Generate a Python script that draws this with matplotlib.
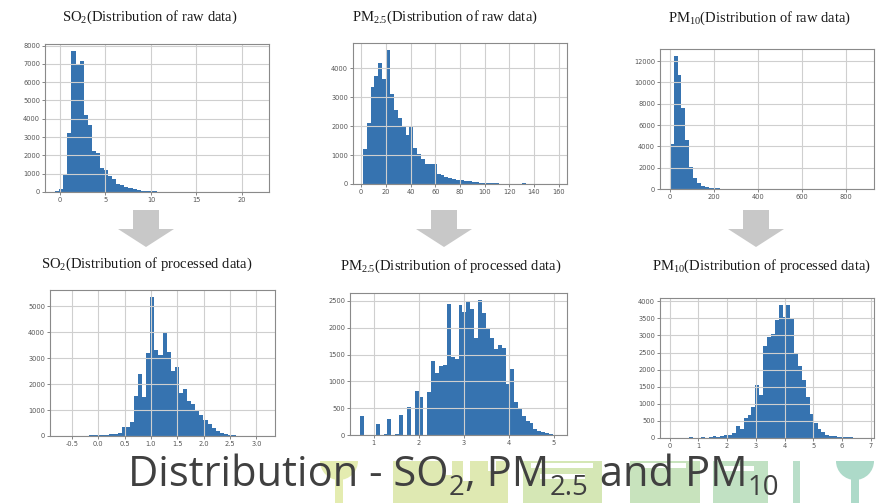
import numpy as np
import matplotlib
matplotlib.use("Agg")
import matplotlib.pyplot as plt
from matplotlib.patches import Polygon, Rectangle, Wedge

W, H = 884, 503

# ---------------- data (50 histogram bins per panel) ----------------
so2_raw_range = (-0.53, 21.85)
so2_raw_counts = [60, 150, 950, 3200, 7700, 7000, 7150, 4200, 3650, 2250,
                  2150, 1300, 1200, 850, 700, 450, 380, 300, 200, 150,
                  100, 80, 60, 45, 35, 25, 20, 15, 10, 8,
                  5, 4, 3, 2, 2, 1, 1, 1, 0, 0,
                  0, 0, 0, 0, 0, 0, 0, 0, 0, 1]
so2_raw_xticks = [0, 5, 10, 15, 20]
so2_raw_yticks = [0, 1000, 2000, 3000, 4000, 5000, 6000, 7000, 8000]

pm25_raw_range = (1.2, 158.8)
pm25_raw_counts = [1200, 2100, 3350, 3750, 4200, 3650, 4650, 3100, 2550, 2300,
                   2000, 1700, 2000, 1250, 1050, 850, 700, 700, 700, 350,
                   300, 250, 200, 180, 150, 150, 110, 100, 80, 60,
                   50, 40, 30, 25, 20, 15, 12, 10, 8, 6,
                   5, 30, 3, 2, 2, 1, 1, 1, 0, 1]
pm25_raw_xticks = [0, 20, 40, 60, 80, 100, 120, 140, 160]
pm25_raw_yticks = [0, 1000, 2000, 3000, 4000]

pm10_raw_range = (0.0, 883.0)
pm10_raw_counts = [4200, 12500, 10700, 7600, 4550, 2100, 1000, 600, 300, 200,
                   130, 100, 60, 40, 30, 20, 15, 10, 8, 5,
                   4, 3, 2, 2, 1, 1, 1, 0, 0, 0,
                   0, 0, 0, 0, 0, 0, 0, 0, 0, 0,
                   0, 0, 0, 0, 0, 0, 0, 0, 0, 1]
pm10_raw_xticks = [0, 200, 400, 600, 800]
pm10_raw_yticks = [0, 2000, 4000, 6000, 8000, 10000, 12000]

so2_proc_range = (-0.72, 3.16)
so2_proc_counts = [1, 0, 0, 0, 2, 3, 5, 20, 20, 30,
                   40, 50, 60, 80, 120, 350, 350, 550, 1550, 2400,
                   1500, 3200, 5350, 3300, 3100, 4000, 3250, 2500, 2650, 1650,
                   1800, 1350, 1250, 1000, 800, 600, 450, 300, 200, 100,
                   60, 40, 20, 10, 6, 4, 2, 1, 1, 1]
so2_proc_xticks = [-0.5, 0.0, 0.5, 1.0, 1.5, 2.0, 2.5, 3.0]
so2_proc_yticks = [0, 1000, 2000, 3000, 4000, 5000]

pm25_proc_range = (0.693, 5.07)
pm25_proc_counts = [350, 0, 0, 0, 200, 0, 10, 300, 0, 10,
                    370, 0, 530, 0, 820, 700, 0, 800, 1380, 1150,
                    1280, 1300, 2450, 1450, 1420, 2430, 2300, 2480, 2350, 1800,
                    2520, 2280, 2000, 1800, 1600, 1670, 1620, 950, 1230, 620,
                    500, 360, 260, 220, 120, 80, 50, 30, 10, 5]
pm25_proc_xticks = [1, 2, 3, 4, 5]
pm25_proc_yticks = [0, 500, 1000, 1500, 2000, 2500]

pm10_proc_range = (0.0, 6.78)
pm10_proc_counts = [0, 0, 0, 0, 0, 30, 0, 0, 20, 0,
                    40, 50, 30, 60, 80, 100, 150, 350, 250, 580,
                    680, 900, 1550, 1250, 2700, 2950, 3050, 3450, 3900, 3550,
                    3900, 3500, 2500, 2100, 1700, 1200, 700, 450, 250, 170,
                    100, 70, 50, 40, 30, 20, 15, 10, 3, 1]
pm10_proc_xticks = [0, 1, 2, 3, 4, 5, 6, 7]
pm10_proc_yticks = [0, 500, 1000, 1500, 2000, 2500, 3000, 3500, 4000]

panel_titles = [
    "SO$_{\\mathregular{2}}$(Distribution of raw data)",
    "PM$_{\\mathregular{2.5}}$(Distribution of raw data)",
    "PM$_{\\mathregular{10}}$(Distribution of raw data)",
    "SO$_{\\mathregular{2}}$(Distribution of processed data)",
    "PM$_{\\mathregular{2.5}}$(Distribution of processed data)",
    "PM$_{\\mathregular{10}}$(Distribution of processed data)",
]
# main title: (text, is_subscript)
main_title_parts = [("Distribution - SO", False), ("2", True), (", PM", False),
                    ("2.5", True), (" and PM", False), ("10", True)]

# ---------------- layout (pixels) ----------------
panel_boxes = [  # left, top, right, bottom
    (45, 44, 269, 192),
    (353, 43, 567, 184),
    (660, 49, 874, 189),
    (50, 290, 275, 436),
    (350, 293, 567, 435),
    (660, 298, 874, 438),
]
title_pos = [(150, 17), (445, 17), (760, 18), (147, 264), (451, 266), (761, 266)]
arrow_centers = [146, 444, 756]

fig = plt.figure(figsize=(W / 100, H / 100), dpi=100)

# background layer for decorations
bg = fig.add_axes([0, 0, 1, 1], zorder=-5)
bg.set_xlim(0, W)
bg.set_ylim(H, 0)
bg.axis("off")

# faint logo-like decoration behind the main title
deco = [
    (393, 461, 115, 42, "#dfe9b2"),
    (523, 461, 79, 42, "#d5e7b5"),
    (630, 461, 70, 42, "#c8e3bd"),
    (713, 461, 55, 42, "#c1e1c3"),
    (793, 461, 7, 42, "#b9dec9"),
]
for x, y, w, h, c in deco:
    bg.add_patch(Rectangle((x, y), w, h, color=c, lw=0))
# white cut-outs
for x, y, w, h in [(442, 461, 10, 14), (463, 461, 7, 20), (488, 461, 8, 10),
                   (531, 463, 62, 5), (540, 474, 45, 5), (640, 463, 46, 5),
                   (724, 466, 30, 5)]:
    bg.add_patch(Rectangle((x, y), w, h, color="white", lw=0))
for cx, col in [(339, "#e4ecb0"), (855, "#addac9")]:
    bg.add_patch(Wedge((cx, 461), 19, 0, 180, color=col, lw=0))
    bg.add_patch(Rectangle((cx - 4, 461), 8, 42, color=col, lw=0))

# grey down arrows
for cx in arrow_centers:
    pts = [(cx - 13, 210), (cx + 13, 210), (cx + 13, 229), (cx + 28, 229),
           (cx, 247), (cx - 28, 229), (cx - 13, 229)]
    bg.add_patch(Polygon(pts, closed=True, color="#c8c8c8", lw=0))

panels = [
    (so2_raw_range, so2_raw_counts, so2_raw_xticks, so2_raw_yticks),
    (pm25_raw_range, pm25_raw_counts, pm25_raw_xticks, pm25_raw_yticks),
    (pm10_raw_range, pm10_raw_counts, pm10_raw_xticks, pm10_raw_yticks),
    (so2_proc_range, so2_proc_counts, so2_proc_xticks, so2_proc_yticks),
    (pm25_proc_range, pm25_proc_counts, pm25_proc_xticks, pm25_proc_yticks),
    (pm10_proc_range, pm10_proc_counts, pm10_proc_xticks, pm10_proc_yticks),
]

bar_color = "#3673b0"
for (rng, counts, xt, yt), (l, t, r, b), title, (tx, ty) in zip(
        panels, panel_boxes, panel_titles, title_pos):
    ax = fig.add_axes([l / W, 1 - b / H, (r - l) / W, (b - t) / H])
    edges = np.linspace(rng[0], rng[1], len(counts) + 1)
    ax.bar(edges[:-1], counts, width=np.diff(edges), align="edge",
           color=bar_color, linewidth=0)
    ax.set_axisbelow("line")
    ax.grid(True, color="#cfcfcf", linewidth=0.8)
    ax.set_xticks(xt)
    ax.set_yticks(yt)
    ax.set_xticklabels([("%.1f" % v) if isinstance(v, float) else str(v) for v in xt])
    ax.tick_params(labelsize=4.8, colors="#555555", length=2, width=0.5, pad=1.5)
    for s in ax.spines.values():
        s.set_color("#8a8a8a")
        s.set_linewidth(0.8)
    fig.text(tx / W, 1 - ty / H, title, ha="center", va="center",
             fontsize=10.5, family="Liberation Serif", color="#1a1a1a")

# main title assembled piece by piece (subscripts drawn smaller and lower)
renderer = fig.canvas.get_renderer()
main_size = 30
x_px = 128.0
base_px = 486.0
for txt, is_sub in main_title_parts:
    size = main_size * 0.66 if is_sub else main_size
    y_px = base_px + (9 if is_sub else 0)
    t = fig.text(x_px / W, 1 - y_px / H, txt, ha="left", va="baseline",
                 fontsize=size, family="Open Sans", color="#404040")
    ext = t.get_window_extent(renderer)
    x_px += ext.width + (1 if is_sub else 0)

fig.savefig("out.png", dpi=100, facecolor="white")
